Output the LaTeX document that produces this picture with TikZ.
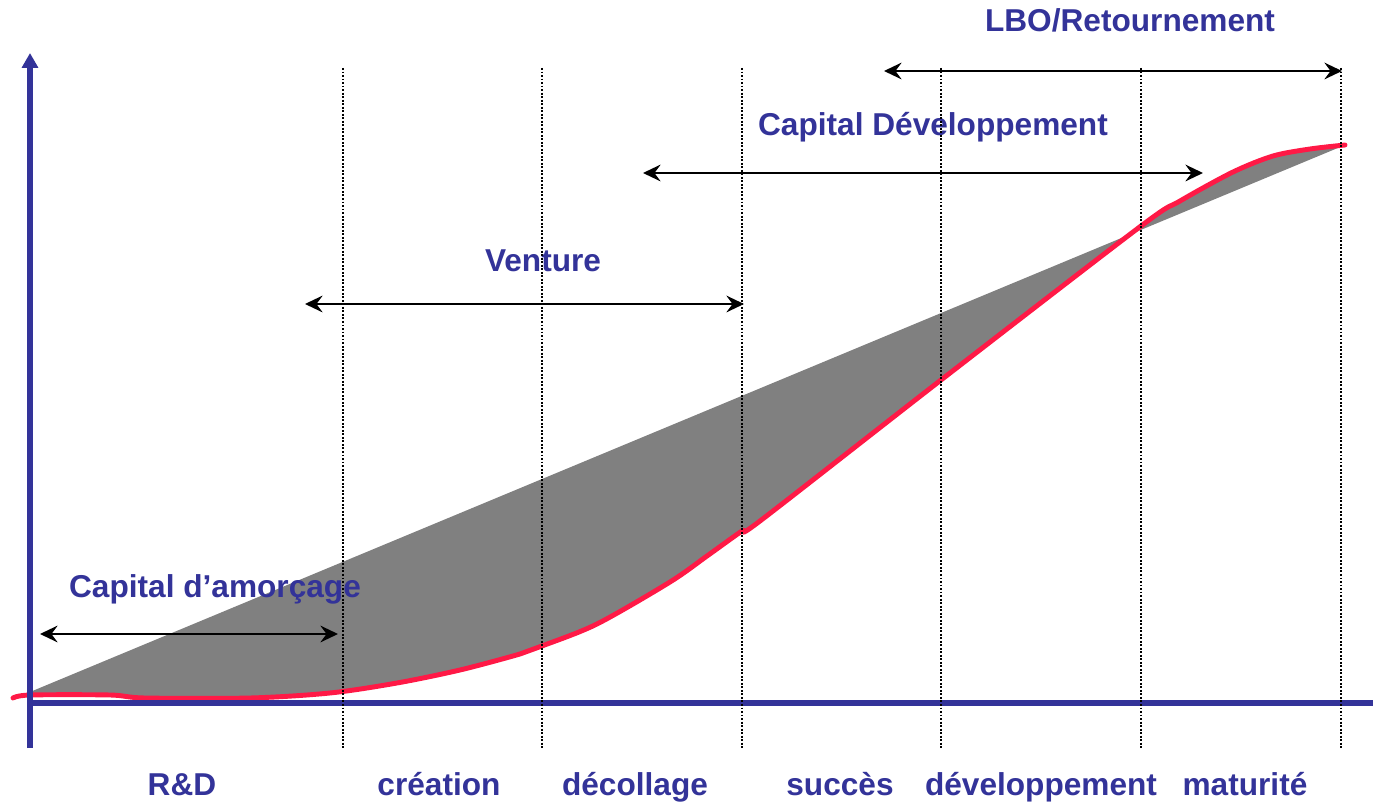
\documentclass[tikz,border=0pt]{standalone}
\usepackage{fontspec}
\setmainfont{Liberation Sans}
\usetikzlibrary{arrows.meta}

\definecolor{axisblue}{RGB}{51,51,153}
\definecolor{curvered}{RGB}{255,25,70}
\definecolor{gapgray}{RGB}{128,128,128}

\tikzset{
  stage/.style={anchor=base, inner sep=0pt, text=axisblue,
    font=\fontsize{18}{22}\selectfont\bfseries},
  span/.style={{Stealth[length=10pt,width=9.5pt,inset=3.5pt]}-{Stealth[length=10pt,width=9.5pt,inset=3.5pt]},
    line width=1.3pt, black},
  phase/.style={line width=1.5pt, dash pattern=on 1.1pt off 0.9pt, black},
  axis/.style={line width=3pt, axisblue},
  growth/.style={line width=2.8pt, curvered, line cap=round, line join=round}
}

\begin{document}
\begin{tikzpicture}[x=0.02cm, y=-0.02cm]
  \useasboundingbox (0,0) rectangle (1373,803);

  % area between the straight line and the curve
  \fill[gapgray] plot[smooth, tension=0.5] coordinates {
      (13,698) (30,695) (110,695) (145,698) (250,698) (330,693) (397,683)
      (460,670) (520,654) (542,646) (597,624) (670,582) (707,556) (742,531)
      (760,521) (941,380) (1141,226) (1180,201) (1233,172) (1273,156)
      (1310,149) (1345,145)}
    -- (30,692) -- cycle;

  % growth curve
  \draw[growth] plot[smooth, tension=0.5] coordinates {
      (13,698) (30,695) (110,695) (145,698) (250,698) (330,693) (397,683)
      (460,670) (520,654) (542,646) (597,624) (670,582) (707,556) (742,531)
      (760,521) (941,380) (1141,226) (1180,201) (1233,172) (1273,156)
      (1310,149) (1345,145)};

  % financing labels
  \node (amorcage) [stage] at (215,598)  {Capital d’amorçage};
  \node (venture)  [stage] at (543,272)  {Venture};
  \node (devcap)   [stage] at (933,136)  {Capital Développement};
  \node (lbo)      [stage] at (1130,32)  {LBO/Retournement};

  % stage labels
  \node (rd)       [stage] at (182,795)  {R\&D};
  \node (creation) [stage] at (439,795)  {création};
  \node (decol)    [stage] at (635,795)  {décollage};
  \node (succes)   [stage] at (840,795)  {succès};
  \node (develop)  [stage] at (1041,795) {développement};
  \node (maturite) [stage] at (1245,795) {maturité};

  % financing spans
  \coordinate (amorcage-l) at (40,634);   \coordinate (amorcage-r) at (338,634);
  \coordinate (venture-l)  at (305,304);  \coordinate (venture-r)  at (744,304);
  \coordinate (devcap-l)   at (643,173);  \coordinate (devcap-r)   at (1203,173);
  \coordinate (lbo-l)      at (884,71);   \coordinate (lbo-r)      at (1342,71);
  \draw[span] (amorcage-l) -- (amorcage-r);
  \draw[span] (venture-l) -- (venture-r);
  \draw[span] (devcap-l) -- (devcap-r);
  \draw[span] (lbo-l) -- (lbo-r);

  % axes
  \coordinate (origin) at (30,703);
  \coordinate (ytop)   at (30,53);
  \coordinate (ybot)   at (30,748);
  \coordinate (xend)   at (1373,703);
  \draw[axis] (origin) -- (xend);
  \draw[axis, -{Triangle[length=8.5pt,width=9pt]}] (ybot) -- (ytop);

  % phase boundaries
  \foreach \x [count=\i] in {343,542,742,941,1141,1341} {
    \coordinate (b\i-top) at (\x,68);
    \coordinate (b\i-bot) at (\x,748);
    \draw[phase] (b\i-top) -- (b\i-bot);
  }
\end{tikzpicture}
\end{document}
